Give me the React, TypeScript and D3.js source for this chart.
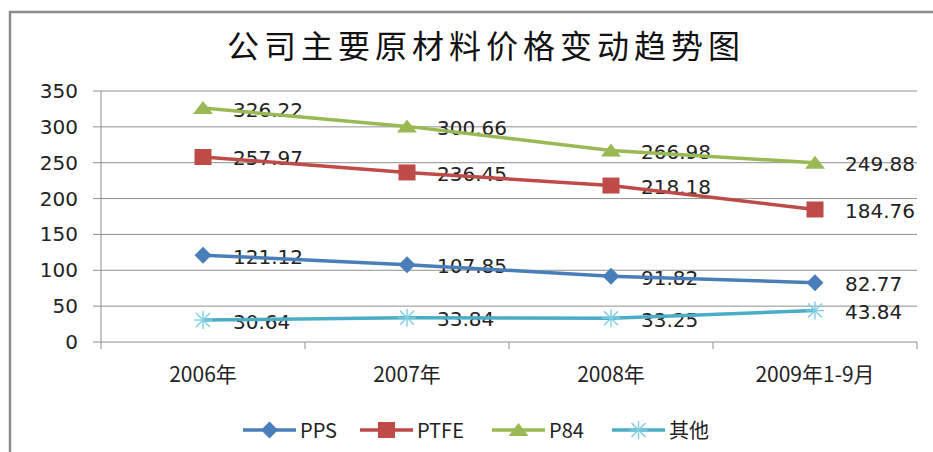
import React from 'react';
import * as d3 from 'd3';

const categories = ['2006年', '2007年', '2008年', '2009年1-9月'];
const seriesNames = ['PPS', 'PTFE', 'P84', '其他'];
const ppsValues = [121.12, 107.85, 91.82, 82.77];
const ptfeValues = [257.97, 236.45, 218.18, 184.76];
const p84Values = [326.22, 300.66, 266.98, 249.88];
const otherValues = [30.64, 33.84, 33.25, 43.84];
const yTicks = [0, 50, 100, 150, 200, 250, 300, 350];
const colors = ['#4A7EBB', '#BE4B48', '#98B954', '#4BACC6'];

const W = 933;
const H = 452;
const numFont = '"DejaVu Sans", Verdana, sans-serif';
const cjkFont = '"Noto Sans CJK SC", "Noto Sans", sans-serif';

function Marker({ kind, color }: { kind: number; color: string }) {
  if (kind === 0) {
    return <path d="M0,-8.5L8.5,0L0,8.5L-8.5,0Z" fill={color} />;
  }
  if (kind === 1) {
    return <rect x={-8.5} y={-8} width={17} height={16} fill={color} />;
  }
  if (kind === 2) {
    return <path d="M0,-7L10,6L-10,6Z" fill={color} />;
  }
  // asterisk
  return (
    <g stroke="#7fcfe6" strokeWidth={1.4}>
      <line x1={-9} y1={0} x2={9} y2={0} />
      <line x1={0} y1={-9} x2={0} y2={9} />
      <line x1={-7} y1={-7} x2={7} y2={7} />
      <line x1={-7} y1={7} x2={7} y2={-7} />
    </g>
  );
}

export default function App() {
  const series = [ppsValues, ptfeValues, p84Values, otherValues];
  const x = d3.scaleBand<string>().domain(categories).range([101, 917]);
  const y = d3.scaleLinear().domain([0, 350]).range([342, 91]);
  const cx = (c: string) => (x(c) as number) + x.bandwidth() / 2;
  const line = d3
    .line<number>()
    .x((_, i) => cx(categories[i]))
    .y((d) => y(d));

  const bounds = [0, 1, 2, 3, 4].map((i) => 101 + i * x.bandwidth());
  const legendX = [243, 360, 492, 612];

  return (
    <svg width={W} height={H} style={{ position: 'absolute', left: 0, top: 0, background: '#fff' }}>
      <rect x={10} y={12} width={W + 10} height={H + 10} fill="#fff" stroke="#8c8c8c" strokeWidth={2.5} />
      <text
        x={486}
        y={58}
        textAnchor="middle"
        fontFamily={cjkFont}
        fontSize={32}
        letterSpacing={5}
        fill="#111"
      >
        公司主要原材料价格变动趋势图
      </text>

      {/* gridlines and y labels */}
      {yTicks.map((t) => (
        <g key={t}>
          <line x1={93} x2={917} y1={y(t)} y2={y(t)} stroke="#8f8f8f" strokeWidth={1} />
          <text
            x={78}
            y={y(t) + 7}
            textAnchor="end"
            fontFamily={numFont}
            fontSize={20}
            fill="#222"
          >
            {t}
          </text>
        </g>
      ))}
      <line x1={101} x2={101} y1={y(350)} y2={y(0)} stroke="#8f8f8f" />
      {bounds.map((b) => (
        <line key={b} x1={b} x2={b} y1={y(0)} y2={y(0) + 7} stroke="#8f8f8f" />
      ))}
      {categories.map((c) => (
        <text
          key={c}
          x={cx(c)}
          y={382}
          textAnchor="middle"
          fontFamily={cjkFont}
          fontSize={21}
          fill="#222"
        >
          {c}
        </text>
      ))}

      {/* data labels */}
      {series.map((vals, si) =>
        vals.map((v, i) => (
          <text
            key={si + '-' + i}
            x={cx(categories[i]) + 30}
            y={y(v) + 8.5}
            fontFamily={numFont}
            fontSize={20}
            fill="#222"
          >
            {v.toFixed(2)}
          </text>
        ))
      )}

      {/* lines and markers */}
      {series.map((vals, si) => (
        <g key={si}>
          <path d={line(vals) || ''} fill="none" stroke={colors[si]} strokeWidth={3.5} strokeLinejoin="round" />
          {vals.map((v, i) => (
            <g key={i} transform={`translate(${cx(categories[i])},${y(v)})`}>
              <Marker kind={si} color={colors[si]} />
            </g>
          ))}
        </g>
      ))}

      {/* legend */}
      {seriesNames.map((n, si) => (
        <g key={n} transform={`translate(${legendX[si]},430)`}>
          <line x1={0} x2={53} y1={0} y2={0} stroke={colors[si]} strokeWidth={3.5} />
          <g transform="translate(26.5,0)">
            <Marker kind={si} color={colors[si]} />
          </g>
          <text x={57} y={7.5} fontFamily={cjkFont} fontSize={20} fill="#222">
            {n}
          </text>
        </g>
      ))}
    </svg>
  );
}
